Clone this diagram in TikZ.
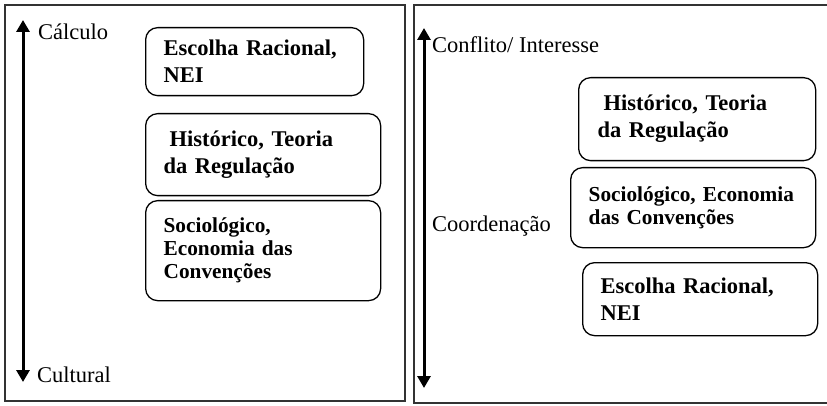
\documentclass[tikz,border=0pt]{standalone}
\usepackage{fontspec}
\setmainfont{Liberation Serif}
\usetikzlibrary{positioning}
\usetikzlibrary{arrows.meta}

\begin{document}
\begin{tikzpicture}[x=1pt, y=-1pt,
                          panel/.style={draw=black!80, line width=2.2pt},
                          axis/.style={{Triangle[width=13pt,length=12pt]}-{Triangle[width=13pt,length=12pt]}, line width=3pt},
                          axislabel/.style={anchor=base west, inner sep=0pt, font=\fontsize{22.5}{27}\selectfont},
                          approach/.style={draw, rounded corners=12pt, line width=1.3pt, anchor=north west, align=left, inner xsep=18pt, inner ysep=0pt, font=\fontsize{22.5}{27}\selectfont\bfseries},
                          approachsmall/.style={approach, font=\fontsize{21.3}{23}\selectfont\bfseries},
                      ]
                      \useasboundingbox (0,0) rectangle (827,406);
                      % Panels
                      \draw[panel] (5,5) rectangle (405,401);
                      \draw[panel] (827,5) -- (414,5) -- (414,403) -- (827,403);

                      % Left panel
                      \coordinate (calculo_tip)  at (23,20);
                      \coordinate (cultural_tip) at (23,382);
                      \node[axislabel] (calculo)  at (38,40)  {Cálculo};
                      \node[axislabel] (cultural) at (37,382) {Cultural};

                      \node[approach, text width=182pt, minimum height=68pt]        (escolha_l)     at (145,27)  {Escolha Racional,\\NEI};
                      \node[approach, text width=199pt, minimum height=82pt]        (historico_l)   at (145,113) {\hspace*{6pt}Histórico, Teoria\\da Regulação};
                      \node[approachsmall, text width=199pt, minimum height=100pt]  (sociologico_l) at (145,200) {Sociológico,\\Economia das\\Convenções};

                      % Right panel
                      \coordinate (conflito_tip)    at (424,28);
                      \coordinate (coordenacao_tip) at (424,388);
                      \node[axislabel] (conflito)    at (432,53)  {Conflito/ Interesse};
                      \node[axislabel] (coordenacao) at (432,232) {Coordenação};

                      \node[approach, inner xsep=19pt, text width=199pt, minimum height=83pt]  (historico_r)   at (578,77)  {\hspace*{6pt}Histórico, Teoria\\da Regulação};
                      \node[approachsmall, text width=209pt, minimum height=80pt]              (sociologico_r) at (570,167) {Sociológico, Economia\\das Convenções};
                      \node[approach, text width=199pt, minimum height=73pt]                   (escolha_r)     at (582,262) {Escolha Racional,\\NEI};

                      %Lines
                      \draw[axis] (calculo_tip) -- (cultural_tip);
                      \draw[axis] (conflito_tip) -- (coordenacao_tip);
                  \end{tikzpicture}
\end{document}
